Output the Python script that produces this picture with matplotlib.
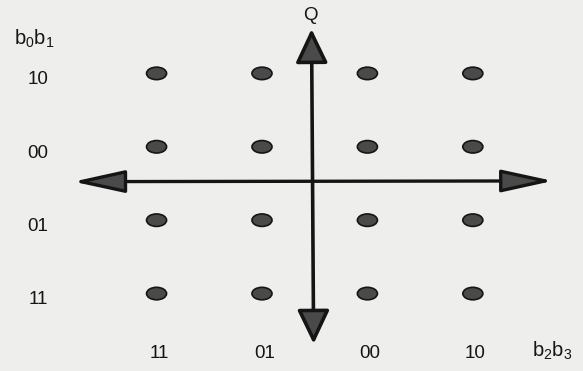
"""16-QAM constellation diagram with Gray-coded bit labels."""

import matplotlib
matplotlib.use("Agg")
import matplotlib.pyplot as plt
from matplotlib.patches import Ellipse, FancyArrowPatch

# ── Data ─────────────────────────────────────────────────────────────────────
i_levels = [-3, -1, 1, 3]
q_levels = [3, 1, -1, -3]
i_labels = ["11", "01", "00", "10"]   # b2b3
q_labels = ["10", "00", "01", "11"]   # b0b1

plt.rcParams["font.family"] = ["Liberation Sans", "DejaVu Sans"]
plt.rcParams["mathtext.default"] = "regular"

INK = "#151515"
DOT = "#4a4a4a"

fig = plt.figure(figsize=(5.83, 3.71), dpi=100)
fig.patch.set_facecolor("#eeeeec")
ax = fig.add_axes([0, 0, 1, 1])
ax.set_facecolor("#eeeeec")
ax.set_xlim(-5.97, 5.09)
ax.set_ylim(-5.11, 5.0)
ax.axis("off")

# ── Axes arrows ──────────────────────────────────────────────────────────────
h_arrow = FancyArrowPatch((-4.58, 0.05), (4.52, 0.07),
                          arrowstyle="<|-|>,head_length=32,head_width=7",
                          mutation_scale=1, shrinkA=0, shrinkB=0,
                          lw=2.4, edgecolor=INK, facecolor=DOT, zorder=2)
v_arrow = FancyArrowPatch((-0.02, -4.37), (-0.06, 4.21),
                          arrowstyle="<|-|>,head_length=21,head_width=10",
                          mutation_scale=1, shrinkA=0, shrinkB=0,
                          lw=2.6, edgecolor=INK, facecolor=DOT, zorder=2)
ax.add_patch(h_arrow)
ax.add_patch(v_arrow)

# ── Constellation points ─────────────────────────────────────────────────────
for q in q_levels:
    for i in i_levels:
        ax.add_patch(Ellipse((i, q), 0.38, 0.34, facecolor=DOT,
                             edgecolor=INK, lw=1.2, zorder=3))

# ── Labels ───────────────────────────────────────────────────────────────────
fs = 13.5
for q, lab in zip(q_levels, q_labels):
    ax.text(-5.25, q - 0.17, lab, ha="center", va="center", fontsize=fs, color=INK)
for i, lab in zip(i_levels, i_labels):
    ax.text(i + 0.05, -4.62, lab, ha="center", va="center", fontsize=fs, color=INK)

ax.text(-5.70, 3.95, "b$_0$b$_1$", ha="left", va="center", fontsize=fs + 1, color=INK)
ax.text(4.13, -4.55, "b$_2$b$_3$", ha="left", va="center", fontsize=fs + 1, color=INK)
ax.text(-0.08, 4.58, "Q", ha="center", va="center", fontsize=fs, color=INK)

fig.savefig("out.png", dpi=100, facecolor=fig.get_facecolor())
